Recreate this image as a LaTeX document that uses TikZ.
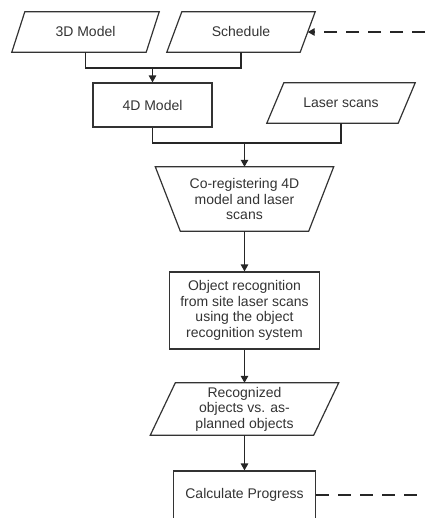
\documentclass[tikz,border=0pt]{standalone}
\usepackage{fontspec}
\setmainfont{Liberation Sans}
\usetikzlibrary{arrows.meta}
\begin{document}
\begin{tikzpicture}[x=1pt,y=-1pt,
  txt/.style={rectangle, inner sep=0pt, align=center, text=black!80,
    font=\fontsize{14}{15.5}\selectfont},
  outline/.style={draw=black!80, line width=1.2pt, line join=miter},
  box/.style={txt, draw=black!80, line width=1.2pt},
  conn/.style={draw=black!85, line width=1.3pt},
  arr/.style={conn, -{Triangle[length=7pt,width=7.5pt]}},
  dashline/.style={conn, dash pattern=on 13pt off 9pt}]
\useasboundingbox (0,0) rectangle (425,518);
\clip (0,0) rectangle (425,518);
% nodes (bounding boxes of the shapes)
\node[txt, minimum width=147pt, minimum height=40pt] (m3d) at (85.5,32) {3D Model};
\node[txt, minimum width=148pt, minimum height=40pt] (sched) at (241,32) {Schedule};
\node[box, minimum width=119pt, minimum height=44pt] (m4d) at (152.5,105) {4D Model};
\node[txt, minimum width=148pt, minimum height=40pt] (laser) at (341,103) {Laser scans};
\node[txt, minimum width=178pt, minimum height=64pt] (coreg) at (244.5,199)
  {Co-registering 4D\\model and laser\\scans};
\node[box, minimum width=150pt, minimum height=77pt] (objrec) at (244.5,310.5)
  {Object recognition\\from site laser scans\\using the object\\recognition system};
\node[txt, minimum width=188pt, minimum height=52pt] (recog) at (244.5,409)
  {Recognized\\objects vs. as-\\planned objects};
\node[box, minimum width=142pt, minimum height=48pt] (calc) at (244.5,495) {Calculate Progress};
% shape outlines
\draw[outline] ([xshift=13pt]m3d.north west) -- (m3d.north east)
  -- ([xshift=-13pt]m3d.south east) -- (m3d.south west) -- cycle;
\draw[outline] ([xshift=15pt]sched.north west) -- (sched.north east)
  -- ([xshift=-15pt]sched.south east) -- (sched.south west) -- cycle;
\draw[outline] ([xshift=17pt]laser.north west) -- (laser.north east)
  -- ([xshift=-17pt]laser.south east) -- (laser.south west) -- cycle;
\draw[outline] ([xshift=25pt]recog.north west) -- (recog.north east)
  -- ([xshift=-25pt]recog.south east) -- (recog.south west) -- cycle;
\draw[outline] (coreg.north west) -- (coreg.north east)
  -- ([xshift=-25pt]coreg.south east) -- ([xshift=25pt]coreg.south west) -- cycle;
% connectors
\coordinate (j1) at (m4d.north |- 0,68);
\coordinate (j2) at (coreg.north |- 0,143);
\coordinate (r1) at (425,32);
\coordinate (r2) at (425,495);
\coordinate (schedin) at ([xshift=-7.5pt]sched.east);
\draw[conn] (m3d.south) |- (j1) -| (sched.south);
\draw[arr] (j1) -- (m4d.north);
\draw[conn] (m4d.south) |- (j2) -| (laser.south);
\draw[arr] (j2) -- (coreg.north);
\draw[arr] (coreg.south) -- (objrec.north);
\draw[arr] (objrec.south) -- (recog.north);
\draw[arr] (recog.south) -- (calc.north);
\draw[dashline, -{Triangle[length=7pt,width=7.5pt]}] (r1) -- (schedin);
\draw[dashline] (calc.east) -- (r2);
\end{tikzpicture}
\end{document}
